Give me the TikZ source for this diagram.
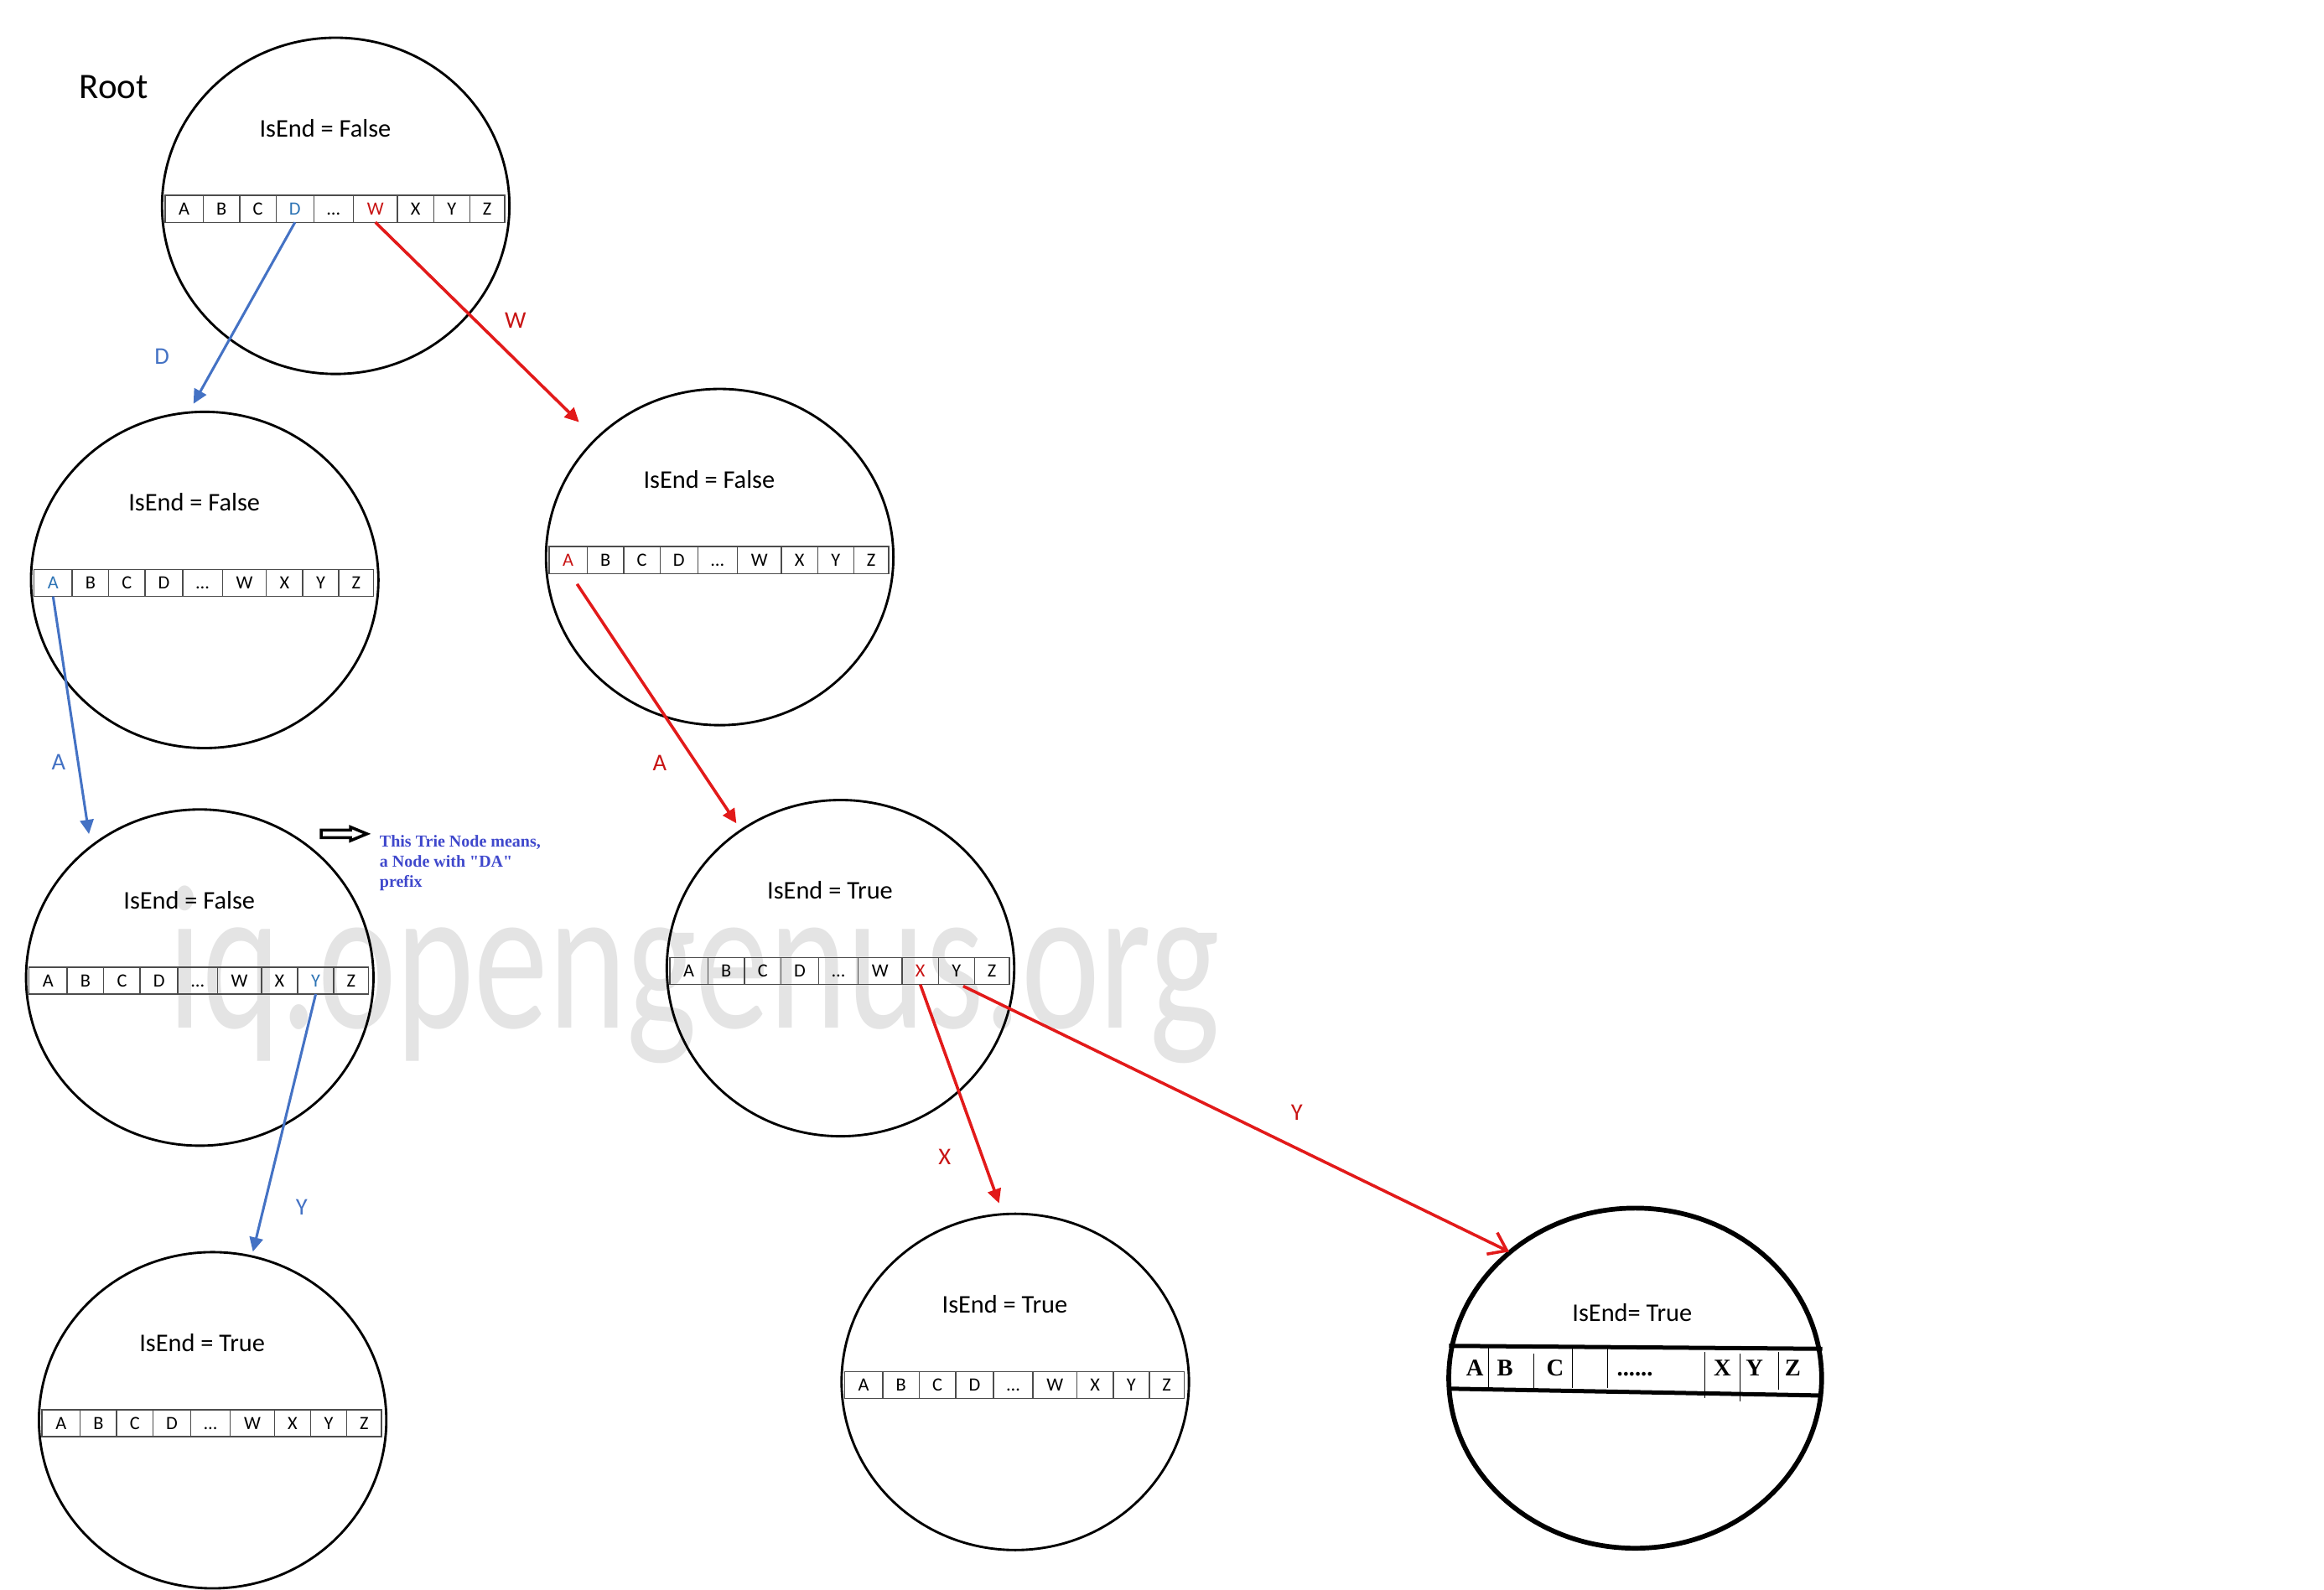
\documentclass[tikz,border=0pt]{standalone}
\usepackage{fontspec}
\setmainfont{Carlito}
\newfontfamily\notefont{Liberation Serif}
\usetikzlibrary{shapes.geometric,shapes.arrows,arrows.meta}

\definecolor{edgeblue}{RGB}{68,114,196}
\definecolor{keyblue}{RGB}{46,116,181}
\definecolor{edgered}{RGB}{226,26,26}
\definecolor{keyred}{RGB}{200,20,20}
\definecolor{noteblue}{RGB}{63,72,204}
\definecolor{markgray}{RGB}{228,228,228}

\tikzset{
  trie/.style={ellipse, draw, line width=1.6pt, minimum width=232pt, minimum height=224.6pt, inner sep=0pt},
  isend/.style={font=\fontsize{17}{20}\selectfont, anchor=base},
  cell/.style={draw=black!70, line width=0.8pt, minimum height=18pt, inner sep=0pt, outer sep=0pt,
    text height=8pt, text depth=0pt, font=\fontsize{12.5}{14}\selectfont},
  bandkey/.style={font=\notefont\bfseries\fontsize{16}{18}\selectfont, anchor=base},
  blueedge/.style={draw=edgeblue, line width=1.7pt, -{Triangle[length=9.5pt,width=9pt]}},
  rededge/.style={draw=edgered, line width=2pt, -{Triangle[length=9.5pt,width=9pt]}},
  edgelabel/.style={font=\fontsize{16}{18}\selectfont},
  hl/.code 2 args={\expandafter\def\csname hl@#1\endcsname{#2}}
}

\newcommand\sixdots{......}

% one trie node: name, centre, flag text, highlighted keys
\newcommand\trienode[4]{%
  \node[trie] (#1) at (#2) {};
  \node[isend] (#1-end) at ([shift={(-7,-46)}]#1.center) {#3};
  \begin{scope}[#4]
    \node[inner sep=0pt, outer sep=0pt] (#1-start) at ([shift={(-114.5,2)}]#1.center) {};
    \foreach \k/\t/\w [remember=\k as \prev (initially start)] in
      {A/A/25.5, B/B/24.4, C/C/24.3, D/D/25.2, dots/\ldots/26.4, W/W/29.4, X/X/24.2, Y/Y/24.1, Z/Z/23.3}
      \node[cell, minimum width=\w pt, anchor=west] (#1-\k) at (#1-\prev.east)
        {\ifcsname hl@\k\endcsname\edef\hlc{\csname hl@\k\endcsname}\color{\hlc}\fi\t};
  \end{scope}}

\begin{document}
\begin{tikzpicture}[x=1pt, y=-1pt]
\useasboundingbox (0,0) rectangle (1552,1061.6);

% watermark behind everything
\node[font=\fontsize{138}{138}\selectfont, text=markgray, xscale=0.72, anchor=base] (mark) at (463.5,686.8) {iq.opengenus.org};

\node[font=\fontsize{24}{28}\selectfont, anchor=base] (rootlabel) at (75.9,65.7) {Root};

\trienode{root}{224.2,137.5}{IsEnd = False}{hl={D}{keyblue}, hl={W}{keyred}}
\trienode{dn}{136.7,387.4}{IsEnd = False}{hl={A}{keyblue}}
\trienode{wn}{480.6,372.1}{IsEnd = False}{hl={A}{keyred}}
\trienode{da}{133.4,653}{IsEnd = False}{hl={Y}{keyblue}}
\trienode{wa}{561.3,646.7}{IsEnd = True}{hl={X}{keyred}}
\trienode{day}{142,948.7}{IsEnd = True}{}
\trienode{wax}{678,923.1}{IsEnd = True}{}

% the last node is drawn by hand
\node[trie, line width=3.2pt, minimum width=249pt, minimum height=227.2pt] (way) at (1092,920.6) {};
\node[isend] (way-end) at (1090,882.8) {IsEnd= True};
\draw[line width=2.8pt] (967.7,899) -- (1216.9,901);
\draw[line width=2.8pt] (967.7,927.6) -- (1216.9,932.2);
\foreach \x/\a/\b in {994.2/899/927, 1024.3/904/928, 1050/901/927, 1073.7/901/927, 1138.5/903/934, 1162/904/936, 1188/903/928}
  \draw[line width=0.6pt] (\x,\a) -- (\x,\b);
\foreach \k/\t/\x in {A/A/985, B/B/1005, C/C/1038.6, dots/\sixdots/1091.8, X/X/1150.2, Y/Y/1171.7, Z/Z/1197.3}
  \node[bandkey] (way-\k) at (\x,919) {\t};

% arrow ends
\coordinate (dn-in) at (129.2,269.7);
\coordinate (wn-in) at (386.7,282);
\coordinate (da-in) at (59.4,557.1);
\coordinate (wa-in) at (491.8,550);
\coordinate (day-in) at (168.9,836.1);
\coordinate (wax-in) at (667.2,803.8);
\coordinate (way-in) at (1007.8,836.1);

\draw[blueedge] (root-D.south) -- (dn-in);
\draw[rededge] (root-W.south) -- (wn-in);
\draw[blueedge] (dn-A.south) -- (da-in);
\draw[rededge] ([shift={(6,7)}]wn-A.south) -- (wa-in);
\draw[blueedge] (da-Y.south) -- (day-in);
\draw[rededge] (wa-X.south) -- (wax-in);
\draw[draw=edgered, line width=2pt, -{Straight Barb[length=11pt,width=16pt]}] ([shift={(4.5,1)}]wa-Y.south) -- (way-in);

\node[edgelabel, text=edgeblue] (lbl-d) at (108.2,238.1) {D};
\node[edgelabel, text=keyred] (lbl-w) at (344.3,214.1) {W};
\node[edgelabel, text=edgeblue] (lbl-da) at (39.2,509.1) {A};
\node[edgelabel, text=keyred] (lbl-wa) at (440.5,509.4) {A};
\node[edgelabel, text=edgeblue] (lbl-day) at (201.4,806.5) {Y};
\node[edgelabel, text=keyred] (lbl-wax) at (630.8,772.8) {X};
\node[edgelabel, text=keyred] (lbl-way) at (866,743) {Y};

% note about the DA node
\node[single arrow, draw, line width=2pt, fill=white, minimum height=30.5pt, inner sep=1.5pt,
  single arrow head extend=2pt, single arrow tip angle=45, anchor=west] (pointer) at (213.5,557) {};
\node[anchor=north west, inner sep=0pt, align=left, text=noteblue,
  font=\notefont\bfseries\fontsize{11.2}{13.4}\selectfont] (note) at (253.4,557.9)
  {This Trie Node means,\\a Node with "DA"\\prefix};
\end{tikzpicture}
\end{document}
